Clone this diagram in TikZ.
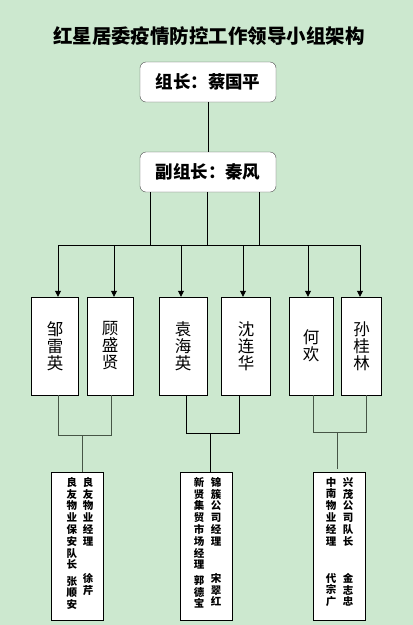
\documentclass[tikz,border=0pt]{standalone}
\usepackage{fontspec}
\setmainfont{Noto Sans CJK SC}
\usetikzlibrary{arrows.meta}
\definecolor{bgGreen}{RGB}{204,232,207}
\definecolor{linkGray}{RGB}{70,85,70}

% stack the characters of #1 one under the other
\def\vtextstop{\vtextstop}
\def\vtext#1{\vtextA#1\vtextstop}
\def\vtextA#1{#1\vtextB}
\def\vtextB#1{\ifx#1\vtextstop\else\\#1\expandafter\vtextB\fi}

\begin{document}
\begin{tikzpicture}[x=1pt,y=-1pt,
  lead/.style={draw=black!70,rounded corners=6pt,fill=white,minimum width=136pt,minimum height=40pt,font=\fontsize{17.5}{20}\selectfont\bfseries},
  member/.style={draw,fill=white,minimum height=98pt,inner sep=0pt,align=center,font=\fontsize{16.5}{17}\selectfont},
  unit/.style={draw,fill=white,minimum width=52pt,minimum height=148pt,inner sep=0pt},
  vcol/.style={anchor=north,inner sep=0pt,align=center,font=\fontsize{10.5}{11.8}\selectfont\bfseries},
  link/.style={line width=0.8pt},
  arr/.style={link,-{Triangle[length=6pt,width=6pt]}}]
\fill[bgGreen] (0,0) rectangle (413,625);
\useasboundingbox (0,0) rectangle (413,625);

\node[font=\fontsize{19.5}{21}\selectfont\bfseries] (title) at (209,36) {红星居委疫情防控工作领导小组架构};

\node[lead] (head) at (208,82) {组长：蔡国平};
\node[lead] (vice) at (208,172) {副组长：秦风};
\draw[link] (head) -- (vice);

% members
\node[member,minimum width=47pt] (m1) at (55,346) {\vtext{邹雷英}};
\node[member,minimum width=46pt] (m2) at (110,346) {\vtext{顾盛贤}};
\node[member,minimum width=48pt] (m3) at (183,346) {\vtext{袁海英}};
\node[member,minimum width=49pt] (m4) at (246,346) {\vtext{沈连华}};
\node[member,minimum width=44pt] (m5) at (311,346) {\vtext{何欢}};
\node[member,minimum width=40pt] (m6) at (361.5,346) {\vtext{孙桂林}};

% from vice leader down to the bus
\foreach \n/\x in {1/150,2/207,3/259}
  \coordinate (s\n) at (\x,245);
\foreach \n in {1,2,3}
  \draw[link] (s\n |- vice.south) -- (s\n);

\foreach \n/\x in {1/58,2/114,3/181,4/243,5/308,6/360}
  \coordinate (d\n) at (\x,245);
\draw[link] (d1) -- (d6);
\foreach \n in {1,...,6}
  \draw[arr] (d\n) -- (d\n |- m\n.north);

% units
\node[unit] (u1) at (77.5,546) {};
\node[unit] (u2) at (206.5,546) {};
\node[unit] (u3) at (339.5,546) {};

\coordinate (p1a) at (58,435);  \coordinate (p1b) at (111,435); \coordinate (j1) at (82,435);
\coordinate (p2a) at (186,433); \coordinate (p2b) at (239,433); \coordinate (j2) at (210,433);
\coordinate (p3a) at (313,432); \coordinate (p3b) at (366,432); \coordinate (j3) at (337,432);
\coordinate (e3) at (337,469);

\draw[link,linkGray] (p1a |- m1.south) -- (p1a) -- (p1b) -- (p1b |- m2.south);
\draw[link,linkGray] (j1) -- (j1 |- u1.north);
\draw[link] (p2a |- m3.south) -- (p2a) -- (p2b) -- (p2b |- m4.south);
\draw[link] (j2) -- (j2 |- u2.north);
\draw[link,linkGray] (p3a |- m5.south) -- (p3a) -- (p3b) -- (p3b |- m6.south);
\draw[link,linkGray] (j3) -- (e3);

% unit texts, read from the right column
\node[vcol] (u1r) at (88,477) {\vtext{良友物业经理}};
\node[vcol] (u1rn) at (88,573) {\vtext{徐芹}};
\node[vcol] (u1l) at (72,477) {\vtext{良友物业保安队长}};
\node[vcol] (u1ln) at (72,576) {\vtext{张顺安}};

\node[vcol] (u2r) at (216,477) {\vtext{锦簇公司经理}};
\node[vcol] (u2rn) at (216,573) {\vtext{宋翠红}};
\node[vcol] (u2l) at (199,477) {\vtext{新贤集贸市场经理}};
\node[vcol] (u2ln) at (199,575) {\vtext{郭德宝}};

\node[vcol] (u3r) at (348,477) {\vtext{兴茂公司队长}};
\node[vcol] (u3rn) at (348,573) {\vtext{金志忠}};
\node[vcol] (u3l) at (331,477) {\vtext{中南物业经理}};
\node[vcol] (u3ln) at (331,573) {\vtext{代宗广}};
\end{tikzpicture}
\end{document}
